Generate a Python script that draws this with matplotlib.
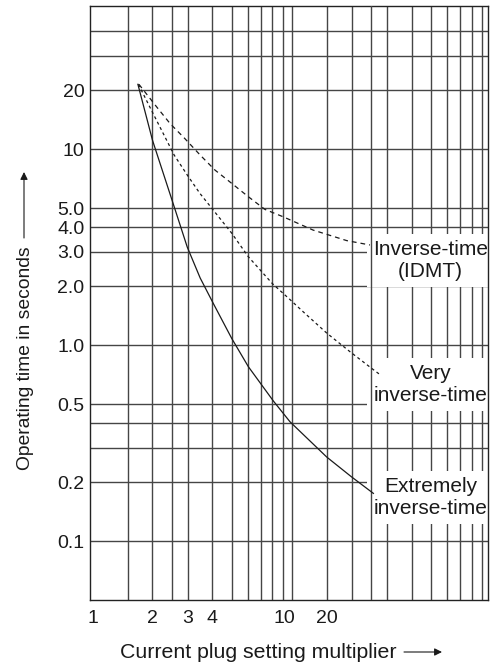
import matplotlib
matplotlib.use("Agg")
import matplotlib.pyplot as plt
from matplotlib.patches import FancyArrowPatch
from matplotlib.ticker import FixedLocator, FixedFormatter, NullLocator

plt.rcParams['font.family'] = ['Liberation Sans', 'DejaVu Sans']

# Relay characteristics: current plug setting multiplier vs operating time (s)
idmt_psm = [1.71, 2.10, 2.45, 2.91, 3.47, 4.12, 5.00, 6.06, 7.34, 9.07, 11.9, 12.8, 18.9, 24.7]
idmt_time = [21.4, 16.4, 13.5, 11.3, 9.32, 7.81, 6.68, 5.71, 4.92, 4.51, 3.99, 3.86, 3.41, 3.24]

very_psm = [1.70, 2.00, 2.57, 2.99, 3.46, 4.04, 5.00, 6.06, 7.99, 9.84, 11.4, 15.0, 19.6, 25.2, 27.5]
very_time = [21.4, 15.4, 9.32, 7.37, 5.94, 4.88, 3.72, 2.82, 2.06, 1.70, 1.48, 1.15, 0.925, 0.760, 0.711]

ext_psm = [1.69, 2.00, 2.57, 2.99, 3.47, 4.04, 5.00, 6.06, 8.09, 9.80, 15.0, 19.9, 25.7]
ext_time = [21.4, 11.1, 5.08, 3.16, 2.20, 1.63, 1.08, 0.775, 0.518, 0.406, 0.268, 0.213, 0.175]

# Log-paper rulings
x_grid = [1.5, 2, 2.5, 3, 4, 5, 6, 7, 8, 9, 10, 15, 20, 25, 30, 40, 50, 60, 70, 80, 90]
y_grid = [0.1, 0.2, 0.3, 0.4, 0.5, 1, 2, 3, 4, 5, 10, 20, 30, 40]

x_tick_pos = [1, 2, 3, 4, 9.2, 15]
x_tick_labels = ['1', '2', '3', '4', '10', '20']
y_tick_pos = [0.1, 0.2, 0.5, 1, 2, 3, 4, 5, 10, 20]
y_tick_labels = ['0.1', '0.2', '0.5', '1.0', '2.0', '3.0', '4.0', '5.0', '10', '20']

curve_labels = ['Inverse-time\n(IDMT)', 'Very\ninverse-time', 'Extremely\ninverse-time']
label_times = [2.70, 0.63, 0.167]

fig = plt.figure(figsize=(4.9, 6.62), dpi=100)
ax = fig.add_axes([90 / 490, 62 / 662, 398.3 / 490, 594 / 662])
ax.set_xscale('log')
ax.set_yscale('log')
ax.set_xlim(0.9715, 97.0)
ax.set_ylim(0.05, 53.7)

grid_col = '#454545'
for xv in x_grid:
    z = 2.6 if xv == 25 else 1
    ax.axvline(xv, color=grid_col, lw=1.0, zorder=z)
for yv in y_grid:
    ax.axhline(yv, color=grid_col, lw=1.0, zorder=1)

ink = '#1a1a1a'
ax.plot(ext_psm, ext_time, color=ink, lw=0.9, zorder=3)
ax.plot(very_psm, very_time, color=ink, lw=0.9, dashes=(2.4, 2.4), zorder=3)
ax.plot(idmt_psm, idmt_time, color=ink, lw=0.9, dashes=(3.8, 3.2), zorder=3)

for lab, t in zip(curve_labels, label_times):
    ax.text(0.855, t, lab, transform=ax.get_yaxis_transform(), ha='center', va='center',
            fontsize=15, color=ink, linespacing=1.2, zorder=2,
            bbox=dict(boxstyle='square,pad=0.3', fc='white', ec='none'))

ax.xaxis.set_major_locator(FixedLocator(x_tick_pos))
ax.xaxis.set_major_formatter(FixedFormatter(x_tick_labels))
ax.xaxis.set_minor_locator(NullLocator())
ax.yaxis.set_major_locator(FixedLocator(y_tick_pos))
ax.yaxis.set_major_formatter(FixedFormatter(y_tick_labels))
ax.yaxis.set_minor_locator(NullLocator())
ax.tick_params(axis='x', length=0, pad=7, labelsize=14, labelcolor=ink)
ax.tick_params(axis='y', length=0, pad=4, labelsize=14, labelcolor=ink)
for sp in ax.spines.values():
    sp.set_color('#222222')
    sp.set_linewidth(1.0)

# Axis titles with direction arrows
fig.text(120 / 490, 1 - 652 / 662, 'Current plug setting multiplier', ha='left', va='center',
         fontsize=15.3, color=ink)
fig.text(25 / 490, 1 - 358.5 / 662, 'Operating time in seconds', ha='center', va='center',
         rotation=90, fontsize=13.9, color=ink)
arrow = dict(arrowstyle='-|>', lw=0.8, color=ink, mutation_scale=11, shrinkA=0, shrinkB=0)
fig.add_artist(FancyArrowPatch((404 / 490, 1 - 652 / 662), (442 / 490, 1 - 652 / 662),
                               transform=fig.transFigure, **arrow))
fig.add_artist(FancyArrowPatch((24 / 490, 1 - 238 / 662), (24 / 490, 1 - 172 / 662),
                               transform=fig.transFigure, **arrow))

fig.savefig('out.png', dpi=100)
